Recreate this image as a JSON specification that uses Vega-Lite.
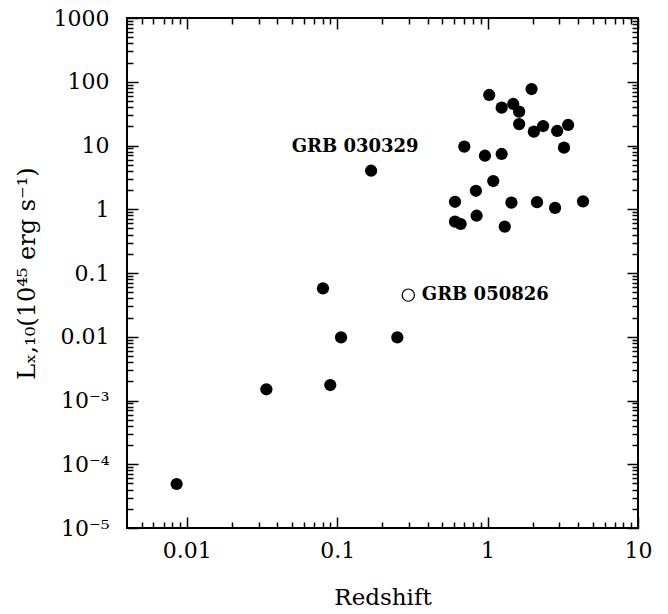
{
  "$schema": "https://vega.github.io/schema/vega-lite/v6.json",
  "width": 511,
  "height": 510,
  "autosize": "none",
  "padding": {"left": 127, "top": 18, "right": 30, "bottom": 86},
  "background": "white",
  "config": {
    "view": {"stroke": "black", "strokeWidth": 2},
    "axis": {
      "domain": false,
      "grid": false,
      "tickColor": "black",
      "tickWidth": 1.5,
      "labelColor": "black",
      "titleColor": "black",
      "labelFont": "DejaVu Serif",
      "titleFont": "DejaVu Serif",
      "labelFontSize": 22,
      "titleFontSize": 24,
      "titleFontWeight": "normal",
      "labelOverlap": false,
      "labelFlush": false
    }
  },
  "datasets": {
    "grb": [
      {"z": 0.00855, "L": 0.000049},
      {"z": 0.0338, "L": 0.0015},
      {"z": 0.0899, "L": 0.00175},
      {"z": 0.0804, "L": 0.0575},
      {"z": 0.106, "L": 0.0098},
      {"z": 0.251, "L": 0.0098},
      {"z": 0.168, "L": 4.02},
      {"z": 1.025, "L": 62},
      {"z": 1.96, "L": 76.9},
      {"z": 1.24, "L": 39.2},
      {"z": 1.48, "L": 44.8},
      {"z": 1.62, "L": 33.9},
      {"z": 1.62, "L": 21.7},
      {"z": 2.03, "L": 16.5},
      {"z": 2.34, "L": 20.2},
      {"z": 2.9, "L": 16.9},
      {"z": 3.43, "L": 21},
      {"z": 0.7, "L": 9.58},
      {"z": 0.96, "L": 6.91},
      {"z": 1.24, "L": 7.36},
      {"z": 3.22, "L": 9.24},
      {"z": 1.09, "L": 2.77},
      {"z": 0.836, "L": 1.95},
      {"z": 0.607, "L": 1.31},
      {"z": 1.44, "L": 1.27},
      {"z": 2.13, "L": 1.29},
      {"z": 2.81, "L": 1.05},
      {"z": 4.31, "L": 1.33},
      {"z": 0.607, "L": 0.638},
      {"z": 0.662, "L": 0.587},
      {"z": 0.845, "L": 0.792},
      {"z": 1.3, "L": 0.533}
    ],
    "open": [
      {"z": 0.297, "L": 0.045}
    ],
    "lab1": [
      {"z": 0.1316, "L": 9.6, "label": "GRB 030329"}
    ],
    "lab2": [
      {"z": 0.365, "L": 0.045, "label": "GRB 050826"}
    ]
  },
  "resolve": {"axis": {"x": "independent", "y": "independent"}},
  "layer": [
    {
      "data": {"name": "grb"},
      "mark": {"type": "point", "filled": true, "size": 150, "color": "black", "opacity": 1},
      "encoding": {
        "x": {"field": "z", "type": "quantitative",
          "scale": {"type": "log", "domain": [0.004, 10], "nice": false, "zero": false},
          "axis": {"orient": "bottom", "values": [0.01, 0.1, 1, 10], "format": "~g", "ticks": false, "labelPadding": 12, "title": "Redshift", "titleFontSize": 23, "titlePadding": 25}},
        "y": {"field": "L", "type": "quantitative",
          "scale": {"type": "log", "domain": [0.00001, 1000], "nice": false, "zero": false},
          "axis": {"orient": "left", "values": [0.00001, 0.0001, 0.001, 0.01, 0.1, 1, 10, 100, 1000], "format": "~g", "ticks": false, "labelPadding": 18, "labelBaseline": "middle",
            "labelExpr": "datum.value < 0.00005 ? '10⁻⁵' : datum.value < 0.0005 ? '10⁻⁴' : datum.value < 0.005 ? '10⁻³' : datum.label",
            "title": "Lₓ,₁₀(10⁴⁵ erg s⁻¹)", "titlePadding": 14}}
      }
    },
    {
      "data": {"name": "open"},
      "mark": {"type": "point", "filled": false, "size": 150, "fill": "white", "stroke": "black", "strokeWidth": 1.2, "opacity": 1},
      "encoding": {
        "x": {"field": "z", "type": "quantitative",
          "scale": {"type": "log", "domain": [0.004, 10], "nice": false, "zero": false},
          "axis": {"orient": "bottom", "values": [0.01, 0.1, 1, 10], "labels": false, "tickSize": -11, "title": null}},
        "y": {"field": "L", "type": "quantitative",
          "scale": {"type": "log", "domain": [0.00001, 1000], "nice": false, "zero": false},
          "axis": {"orient": "left", "values": [0.00001, 0.0001, 0.001, 0.01, 0.1, 1, 10, 100, 1000], "labels": false, "tickSize": -11, "title": null}}
      }
    },
    {
      "data": {"name": "lab1"},
      "mark": {"type": "text", "font": "DejaVu Serif", "fontWeight": "bold", "fontSize": 18, "align": "center", "baseline": "middle", "color": "black"},
      "encoding": {
        "text": {"field": "label"},
        "x": {"field": "z", "type": "quantitative",
          "scale": {"type": "log", "domain": [0.004, 10], "nice": false, "zero": false},
          "axis": {"orient": "bottom", "values": [0.005, 0.006, 0.007, 0.008, 0.009, 0.02, 0.03, 0.04, 0.05, 0.06, 0.07, 0.08, 0.09, 0.2, 0.3, 0.4, 0.5, 0.6, 0.7, 0.8, 0.9, 2, 3, 4, 5, 6, 7, 8, 9], "labels": false, "tickSize": -6, "title": null}},
        "y": {"field": "L", "type": "quantitative",
          "scale": {"type": "log", "domain": [0.00001, 1000], "nice": false, "zero": false},
          "axis": {"orient": "left", "values": [0.00002, 0.00003, 0.00004, 0.00005, 0.00006, 0.00007, 0.00008, 0.00009, 0.0002, 0.0003, 0.0004, 0.0005, 0.0006, 0.0007, 0.0008, 0.0009, 0.002, 0.003, 0.004, 0.005, 0.006, 0.007, 0.008, 0.009, 0.02, 0.03, 0.04, 0.05, 0.06, 0.07, 0.08, 0.09, 0.2, 0.3, 0.4, 0.5, 0.6, 0.7, 0.8, 0.9, 2, 3, 4, 5, 6, 7, 8, 9, 20, 30, 40, 50, 60, 70, 80, 90, 200, 300, 400, 500, 600, 700, 800, 900], "labels": false, "tickSize": -6, "title": null}}
      }
    },
    {
      "data": {"name": "lab2"},
      "mark": {"type": "text", "font": "DejaVu Serif", "fontWeight": "bold", "fontSize": 18, "align": "left", "baseline": "middle", "color": "black"},
      "encoding": {
        "text": {"field": "label"},
        "x": {"field": "z", "type": "quantitative",
          "scale": {"type": "log", "domain": [0.004, 10], "nice": false, "zero": false},
          "axis": {"orient": "top", "values": [0.01, 0.1, 1, 10], "labels": false, "tickSize": -11, "title": null}},
        "y": {"field": "L", "type": "quantitative",
          "scale": {"type": "log", "domain": [0.00001, 1000], "nice": false, "zero": false},
          "axis": {"orient": "right", "values": [0.00001, 0.0001, 0.001, 0.01, 0.1, 1, 10, 100, 1000], "labels": false, "tickSize": -11, "title": null}}
      }
    },
    {
      "data": {"name": "open"},
      "mark": {"type": "point", "opacity": 0},
      "encoding": {
        "x": {"field": "z", "type": "quantitative",
          "scale": {"type": "log", "domain": [0.004, 10], "nice": false, "zero": false},
          "axis": {"orient": "top", "values": [0.005, 0.006, 0.007, 0.008, 0.009, 0.02, 0.03, 0.04, 0.05, 0.06, 0.07, 0.08, 0.09, 0.2, 0.3, 0.4, 0.5, 0.6, 0.7, 0.8, 0.9, 2, 3, 4, 5, 6, 7, 8, 9], "labels": false, "tickSize": -6, "title": null}},
        "y": {"field": "L", "type": "quantitative",
          "scale": {"type": "log", "domain": [0.00001, 1000], "nice": false, "zero": false},
          "axis": {"orient": "right", "values": [0.00002, 0.00003, 0.00004, 0.00005, 0.00006, 0.00007, 0.00008, 0.00009, 0.0002, 0.0003, 0.0004, 0.0005, 0.0006, 0.0007, 0.0008, 0.0009, 0.002, 0.003, 0.004, 0.005, 0.006, 0.007, 0.008, 0.009, 0.02, 0.03, 0.04, 0.05, 0.06, 0.07, 0.08, 0.09, 0.2, 0.3, 0.4, 0.5, 0.6, 0.7, 0.8, 0.9, 2, 3, 4, 5, 6, 7, 8, 9, 20, 30, 40, 50, 60, 70, 80, 90, 200, 300, 400, 500, 600, 700, 800, 900], "labels": false, "tickSize": -6, "title": null}}
      }
    }
  ]
}
